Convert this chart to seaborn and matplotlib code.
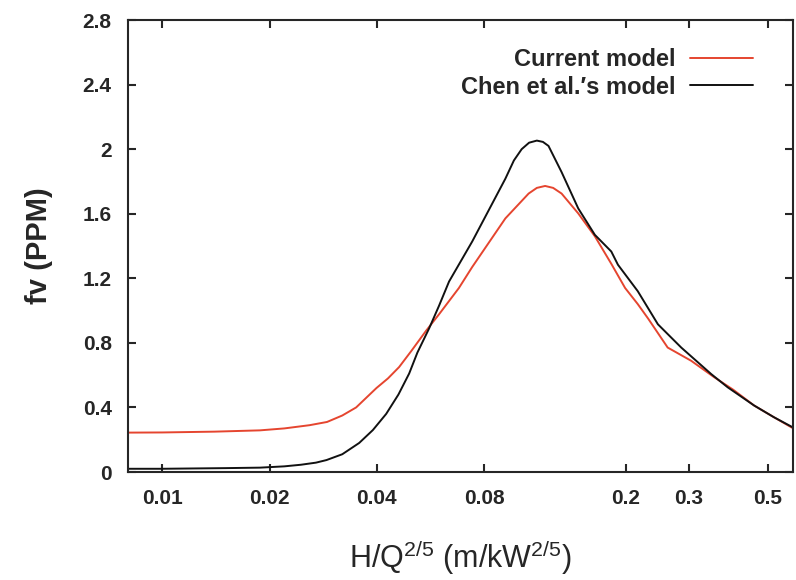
import numpy as np
import pandas as pd
import matplotlib
matplotlib.use('Agg')
import matplotlib.pyplot as plt
import seaborn as sns

# values
x_current = [0.008, 0.01, 0.014, 0.0188, 0.022, 0.0259, 0.029, 0.032, 0.035,
             0.0399, 0.043, 0.0462, 0.05, 0.055, 0.0598, 0.068, 0.0741, 0.0918,
             0.1067, 0.1125, 0.1187, 0.125, 0.132, 0.147, 0.1637, 0.182, 0.199,
             0.216, 0.231, 0.262, 0.305, 0.354, 0.40, 0.458, 0.52, 0.59]
y_current = [0.244, 0.245, 0.25, 0.258, 0.27, 0.29, 0.31, 0.35, 0.40,
             0.52, 0.58, 0.65, 0.75, 0.875, 0.977, 1.14, 1.27, 1.571,
             1.725, 1.76, 1.772, 1.76, 1.725, 1.602, 1.46, 1.29, 1.14,
             1.04, 0.95, 0.771, 0.689, 0.587, 0.51, 0.412, 0.34, 0.27]

x_chen = [0.008, 0.01, 0.015, 0.0188, 0.022, 0.0245, 0.027, 0.0289, 0.032,
          0.0357, 0.039, 0.0425, 0.046, 0.0493, 0.052, 0.0561, 0.0598, 0.0638,
          0.0741, 0.0918, 0.097, 0.102, 0.107, 0.1125, 0.117, 0.1213, 0.132,
          0.147, 0.1637, 0.182, 0.19, 0.216, 0.246, 0.286, 0.347, 0.386,
          0.458, 0.52, 0.59]
y_chen = [0.02, 0.02, 0.024, 0.027, 0.035, 0.045, 0.058, 0.074, 0.11,
          0.18, 0.26, 0.36, 0.48, 0.61, 0.74, 0.89, 1.03, 1.18,
          1.428, 1.817, 1.93, 2.0, 2.04, 2.053, 2.045, 2.02, 1.858,
          1.633, 1.469, 1.366, 1.284, 1.12, 0.915, 0.771, 0.607, 0.525,
          0.412, 0.34, 0.275]

series_names = ['Current model', 'Chen et al.\u2032s model']
x_ticks = [0.01, 0.02, 0.04, 0.08, 0.2, 0.3, 0.5]
x_tick_labels = ['0.01', '0.02', '0.04', '0.08', '0.2', '0.3', '0.5']
y_ticks = [0, 0.4, 0.8, 1.2, 1.6, 2, 2.4, 2.8]
y_tick_labels = ['0', '0.4', '0.8', '1.2', '1.6', '2', '2.4', '2.8']

df = pd.concat([
    pd.DataFrame({'x': x_current, 'y': y_current, 'model': series_names[0]}),
    pd.DataFrame({'x': x_chen, 'y': y_chen, 'model': series_names[1]}),
])

sns.set_style('ticks')
plt.rcParams['font.family'] = ['Liberation Sans', 'DejaVu Sans']
plt.rcParams['mathtext.default'] = 'regular'
plt.rcParams['axes.linewidth'] = 1.5
plt.rcParams['xtick.direction'] = 'in'
plt.rcParams['ytick.direction'] = 'in'
plt.rcParams['xtick.top'] = True
plt.rcParams['ytick.right'] = True

fig = plt.figure(figsize=(7.96, 5.8), dpi=100)
ax = fig.add_axes([0.1612, 0.1862, 0.8354, 0.7793])

sns.lineplot(data=df, x='x', y='y', hue='model', estimator=None, sort=True,
             palette={series_names[0]: '#e5452f', series_names[1]: '#111111'},
             linewidth=1.4, ax=ax)

ax.set_xscale('log')
ax.set_xlim(0.00803, 0.59)
ax.set_ylim(0, 2.8)
ax.set_xticks(x_ticks)
ax.set_xticklabels(x_tick_labels)
ax.minorticks_off()
ax.set_yticks(y_ticks)
ax.set_yticklabels(y_tick_labels)
ax.tick_params(axis='both', which='major', length=6, width=1.5, labelsize=15)
ax.tick_params(axis='x', pad=12)
ax.tick_params(axis='y', pad=12)
for lab in ax.get_xticklabels() + ax.get_yticklabels():
    lab.set_fontweight('bold')

ax.set_xlabel('H/Q$^{2/5}$ (m/kW$^{2/5}$)', fontsize=22, labelpad=22)
ax.set_ylabel('fv (PPM)', fontsize=21, fontweight='bold', labelpad=21)

ax.legend(loc='upper right', bbox_to_anchor=(0.972, 0.985), frameon=False,
          markerfirst=False, prop={'size': 17, 'weight': 'bold'},
          handlelength=2.7, labelspacing=0.2, handletextpad=0.6)

fig.savefig('out.png', dpi=100)
